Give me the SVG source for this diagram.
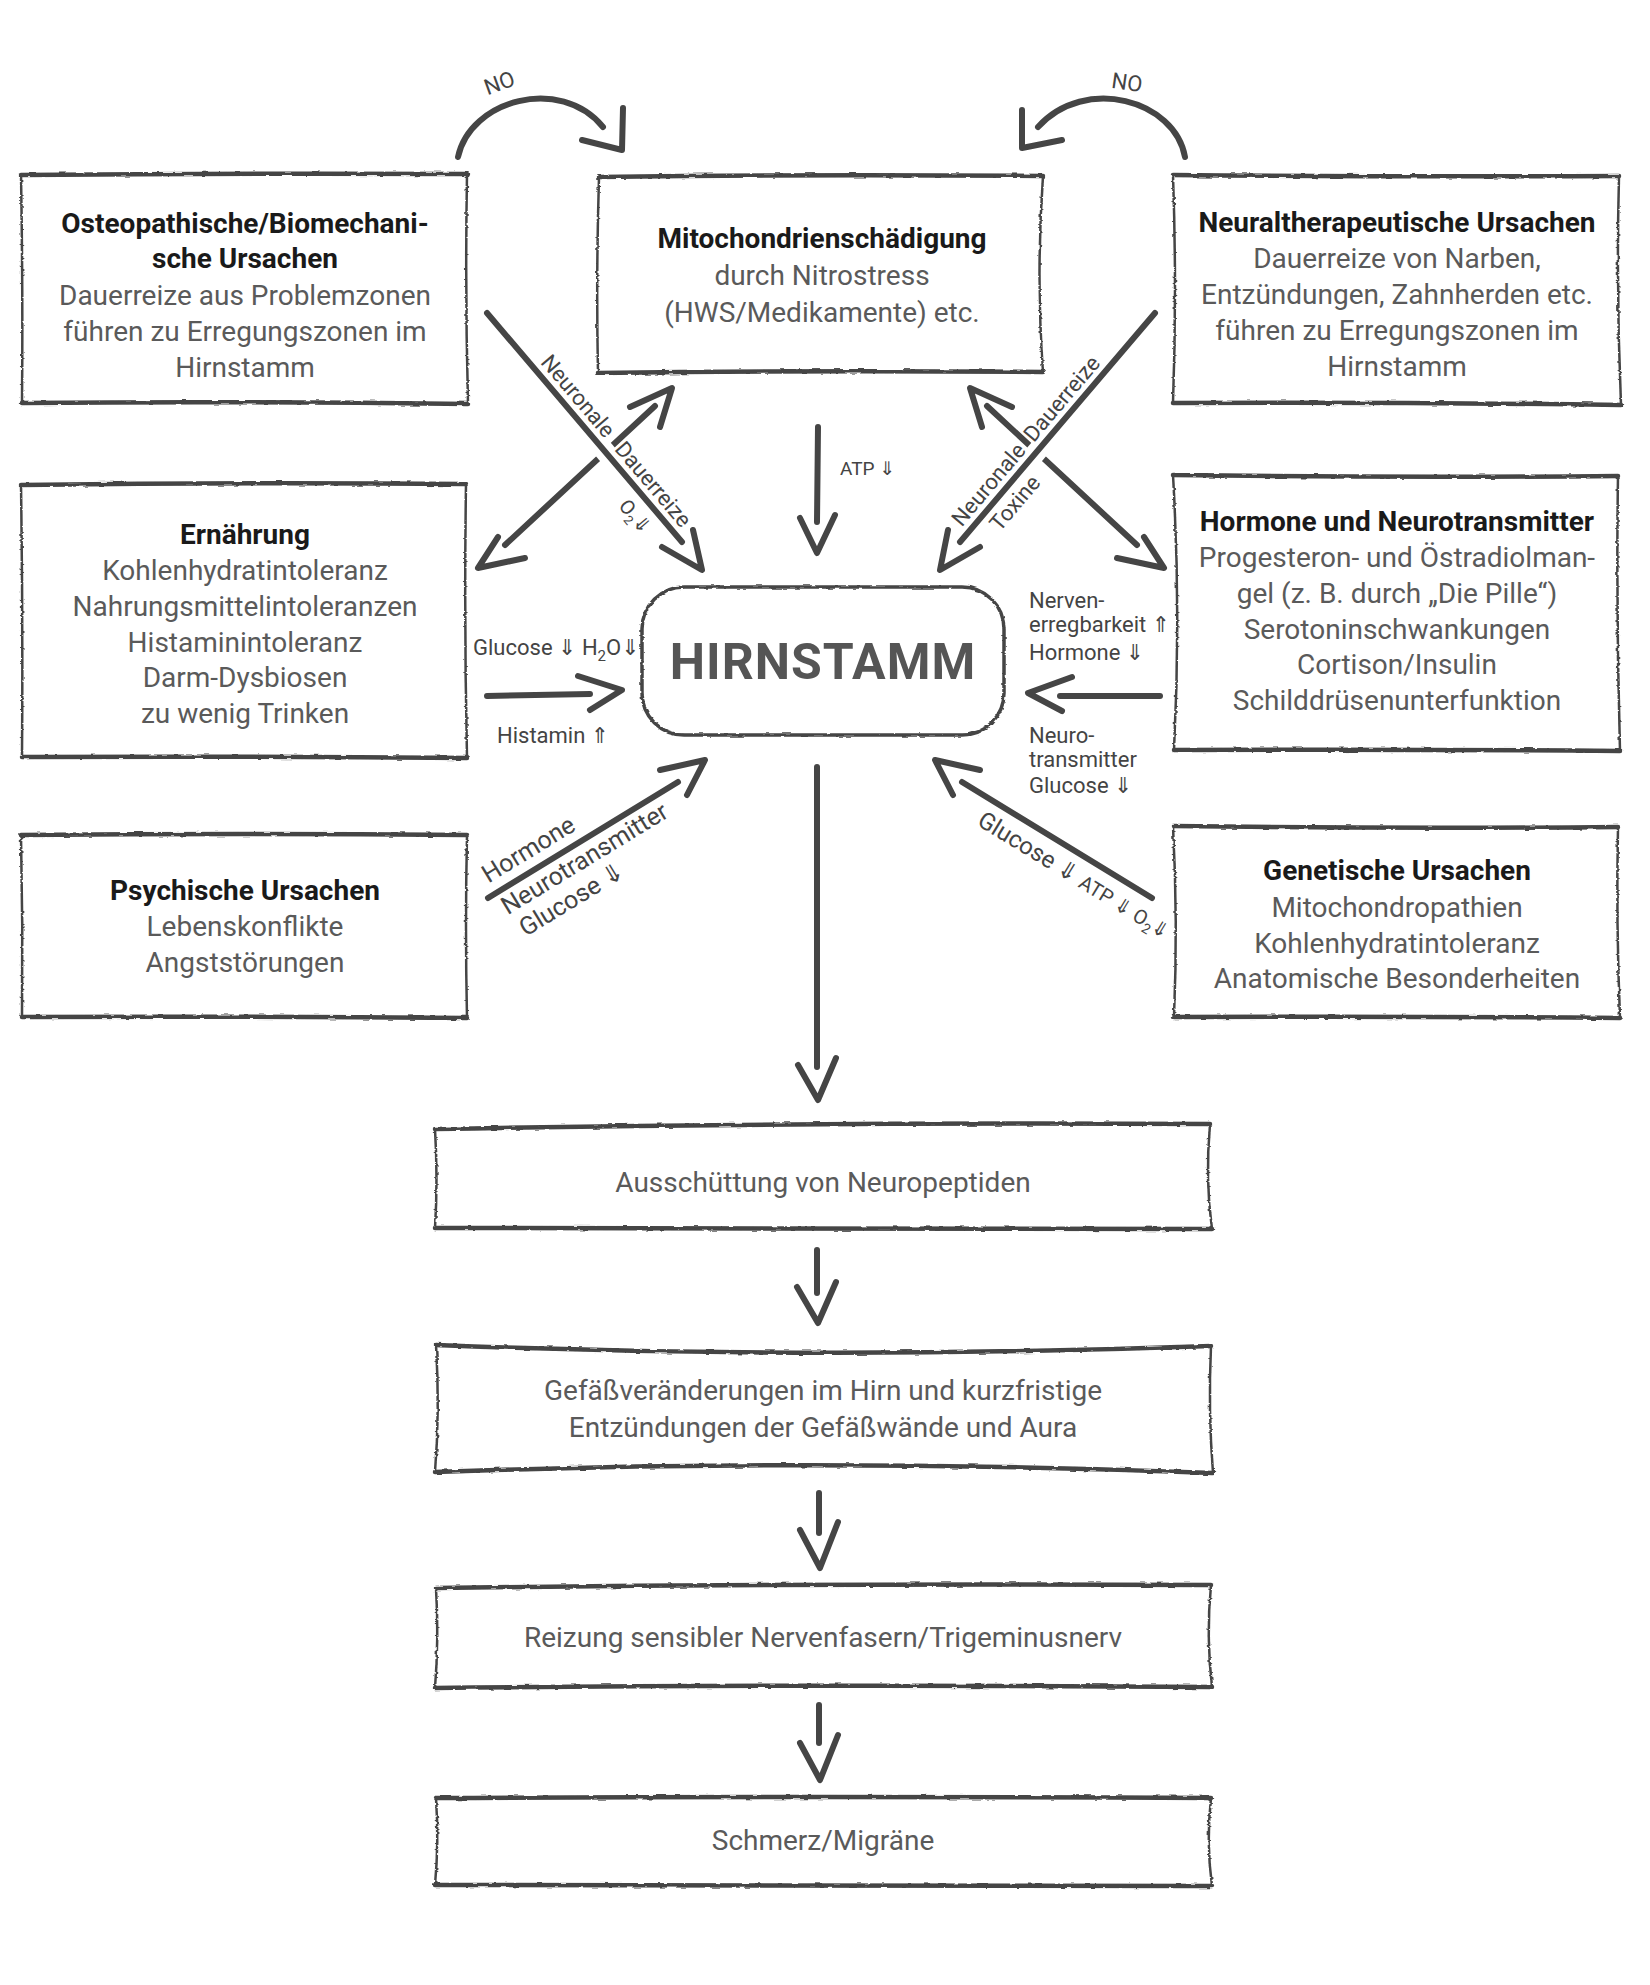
<svg xmlns="http://www.w3.org/2000/svg" width="1650" height="1985" viewBox="0 0 1650 1985">
<defs>
<style>
.eh{stroke:#454545;stroke-width:4.5;fill:none;stroke-linecap:round;stroke-linejoin:round}
.ev{stroke:#454545;stroke-width:2.5;fill:none;stroke-linecap:round}
.ln{stroke:#454545;stroke-width:6;fill:none;stroke-linecap:round;stroke-linejoin:round}
.halo{stroke:#ffffff;stroke-width:20;fill:none;stroke-linecap:butt}
.t{font-family:Roboto,"DejaVu Sans",sans-serif;font-size:28px;text-anchor:middle}
.tb{font-weight:bold;fill:#1a1a1a}
.tr{fill:#5a5a5a}
.lb{font-family:Roboto,"DejaVu Sans",sans-serif;fill:#444}
.hs{font-family:Roboto,"DejaVu Sans",sans-serif;font-weight:bold;font-size:50px;fill:#555;text-anchor:middle;letter-spacing:1px}
</style>
<filter id="rough" filterUnits="userSpaceOnUse" x="0" y="0" width="1650" height="1985">
<feTurbulence type="fractalNoise" baseFrequency="0.09 0.35" numOctaves="2" seed="3" result="n"/>
<feDisplacementMap in="SourceGraphic" in2="n" scale="3" xChannelSelector="R" yChannelSelector="G"/>
</filter>
</defs>
<rect width="1650" height="1985" fill="#ffffff"/>

<!-- connectors -->
<g id="connectors">
  <!-- NO arcs -->
  <path class="ln" d="M458,157 C470,100 560,75 603,127"/>
  <path class="ln" d="M623,108 L622,150 L582,140"/>
  <path class="ln" d="M1185,157 C1175,100 1085,75 1038,127"/>
  <path class="ln" d="M1022,110 L1022,148 L1062,140"/>
  <!-- Ernaehrung <-> Mito -->
  <path class="ln" d="M505,545 L655,406"/>
  <path class="ln" d="M630,407 L672,388 L660,427"/>
  <path class="ln" d="M498,537 L478,568 L525,558"/>
  <!-- Osteo -> Hirnstamm (continuous over) -->
  <path class="halo" d="M492,319 L678,537"/>
  <path class="ln" d="M487,313 L682,542"/>
  <path class="ln" d="M693,530 L702,570 L662,547"/>
  <!-- Mito <-> Hormone -->
  <path class="ln" d="M1137,545 L987,406"/>
  <path class="ln" d="M1012,407 L970,388 L982,427"/>
  <path class="ln" d="M1144,537 L1164,568 L1117,558"/>
  <!-- Neural -> Hirnstamm -->
  <path class="halo" d="M1150,319 L964,537"/>
  <path class="ln" d="M1155,313 L960,542"/>
  <path class="ln" d="M948,530 L940,570 L980,547"/>
  <!-- ATP -->
  <path class="ln" d="M818,427 L817,522"/>
  <path class="ln" d="M800,518 L817,553 L835,515"/>
  <!-- Ernaehrung -> Hirnstamm -->
  <path class="ln" d="M487,696 L590,694"/>
  <path class="ln" d="M578,676 L622,690 L590,710"/>
  <!-- Hormone -> Hirnstamm -->
  <path class="ln" d="M1160,696 L1060,696"/>
  <path class="ln" d="M1072,677 L1028,693 L1062,711"/>
  <!-- Psych -> Hirnstamm -->
  <path class="ln" d="M488,898 L678,782"/>
  <path class="ln" d="M660,770 L705,760 L687,795"/>
  <!-- Genetic -> Hirnstamm -->
  <path class="ln" d="M1152,898 L962,782"/>
  <path class="ln" d="M980,770 L935,760 L953,795"/>
  <!-- main down -->
  <path class="ln" d="M817,767 L817,1067"/>
  <path class="ln" d="M798,1065 L818,1100 L836,1058"/>
  <path class="ln" d="M817,1250 L817,1293"/>
  <path class="ln" d="M797,1287 L818,1323 L836,1282"/>
  <path class="ln" d="M819,1493 L819,1533"/>
  <path class="ln" d="M800,1530 L820,1568 L838,1522"/>
  <path class="ln" d="M819,1705 L819,1743"/>
  <path class="ln" d="M800,1743 L820,1780 L838,1735"/>
</g>

<!-- connector labels -->
<g id="labels">
  <text class="lb" style="font-size:22px" transform="translate(502,90) rotate(-20)" text-anchor="middle">NO</text>
  <text class="lb" style="font-size:22px" transform="translate(1126,90) rotate(8)" text-anchor="middle">NO</text>
  <g transform="translate(487,313) rotate(49.58)">
    <text class="lb" style="font-size:22px" x="72" y="-8">Neuronale</text>
    <text class="lb" style="font-size:22px" x="186" y="-8">Dauerreize</text>
    <text class="lb" style="font-size:20px" x="232" y="26">O<tspan font-size="13" dy="5">2</tspan><tspan dy="-5">⇓</tspan></text>
  </g>
  <g transform="translate(960,542) rotate(-49.58)">
    <text class="lb" style="font-size:22px" x="12" y="-8">Neuronale</text>
    <text class="lb" style="font-size:22px" x="123" y="-8">Dauerreize</text>
    <text class="lb" style="font-size:22px" x="33" y="24">Toxine</text>
  </g>
  <text class="lb" style="font-size:19px" x="840" y="475">ATP ⇓</text>
  <text class="lb" style="font-size:22px" x="473" y="655">Glucose ⇓ H<tspan font-size="15" dy="6">2</tspan><tspan dy="-6">O⇓</tspan></text>
  <text class="lb" style="font-size:22px" x="497" y="743">Histamin ⇑</text>
  <text class="lb" style="font-size:22px" x="1029" y="608">Nerven-</text>
  <text class="lb" style="font-size:22px" x="1029" y="632">erregbarkeit ⇑</text>
  <text class="lb" style="font-size:22px" x="1029" y="660">Hormone ⇓</text>
  <text class="lb" style="font-size:22px" x="1029" y="743">Neuro-</text>
  <text class="lb" style="font-size:22px" x="1029" y="767">transmitter</text>
  <text class="lb" style="font-size:22px" x="1029" y="793">Glucose ⇓</text>
  <g transform="translate(488,898) rotate(-31.4)">
    <text class="lb" style="font-size:25px" x="8" y="-12">Hormone</text>
    <text class="lb" style="font-size:25px" x="8" y="25">Neurotransmitter</text>
    <text class="lb" style="font-size:25px" x="12" y="53">Glucose ⇓</text>
  </g>
  <g transform="translate(962,782) rotate(31.4)">
    <text class="lb" style="font-size:24px" x="34" y="29">Glucose ⇓ <tspan font-size="20">ATP ⇓ O<tspan font-size="14" dy="5">2</tspan><tspan dy="-5">⇓</tspan></tspan></text>
  </g>
</g>

<!-- nodes -->
<g id="node-osteo">
  <g filter="url(#rough)">
    <path class="eh" d="M21,175 Q240,173 467,174"/>
    <path class="eh" d="M22,403 Q240,401 468,404"/>
    <path class="ev" d="M21,175 Q23,290 22,403"/>
    <path class="ev" d="M467,174 Q465,290 468,404"/>
  </g>
  <text class="t tb" x="245" y="233">Osteopathische/Biomechani-</text>
  <text class="t tb" x="245" y="268">sche Ursachen</text>
  <text class="t tr" x="245" y="305">Dauerreize aus Problemzonen</text>
  <text class="t tr" x="245" y="341">führen zu Erregungszonen im</text>
  <text class="t tr" x="245" y="377">Hirnstamm</text>
</g>

<g id="node-mito">
  <g filter="url(#rough)">
    <path class="eh" d="M599,177 Q820,174 1043,176"/>
    <path class="eh" d="M598,373 Q820,370 1043,372"/>
    <path class="ev" d="M599,177 Q596,275 598,373"/>
    <path class="ev" d="M1043,176 Q1036,275 1043,372"/>
  </g>
  <text class="t tb" x="822" y="248">Mitochondrienschädigung</text>
  <text class="t tr" x="822" y="285">durch Nitrostress</text>
  <text class="t tr" x="822" y="322">(HWS/Medikamente) etc.</text>
</g>

<g id="node-neural">
  <g filter="url(#rough)">
    <path class="eh" d="M1173,175 Q1400,177 1619,176"/>
    <path class="eh" d="M1173,403 Q1400,402 1621,405"/>
    <path class="ev" d="M1173,175 Q1177,290 1173,403"/>
    <path class="ev" d="M1619,176 Q1616,290 1621,405"/>
  </g>
  <text class="t tb" x="1397" y="232">Neuraltherapeutische Ursachen</text>
  <text class="t tr" x="1397" y="268">Dauerreize von Narben,</text>
  <text class="t tr" x="1397" y="304">Entzündungen, Zahnherden etc.</text>
  <text class="t tr" x="1397" y="340">führen zu Erregungszonen im</text>
  <text class="t tr" x="1397" y="376">Hirnstamm</text>
</g>

<g id="node-ernaehrung">
  <g filter="url(#rough)">
    <path class="eh" d="M21,485 Q240,482 466,484"/>
    <path class="eh" d="M22,757 Q240,756 467,758"/>
    <path class="ev" d="M21,485 Q23,620 22,757"/>
    <path class="ev" d="M466,484 Q464,620 467,758"/>
  </g>
  <text class="t tb" x="245" y="544">Ernährung</text>
  <text class="t tr" x="245" y="580">Kohlenhydratintoleranz</text>
  <text class="t tr" x="245" y="616">Nahrungsmittelintoleranzen</text>
  <text class="t tr" x="245" y="652">Histaminintoleranz</text>
  <text class="t tr" x="245" y="687">Darm-Dysbiosen</text>
  <text class="t tr" x="245" y="723">zu wenig Trinken</text>
</g>

<g id="node-hormone">
  <g filter="url(#rough)">
    <path class="eh" d="M1173,475 Q1400,478 1618,476"/>
    <path class="eh" d="M1174,750 Q1400,749 1620,751"/>
    <path class="ev" d="M1173,475 Q1181,612 1174,750"/>
    <path class="ev" d="M1618,476 Q1616,612 1620,751"/>
  </g>
  <text class="t tb" x="1397" y="531">Hormone und Neurotransmitter</text>
  <text class="t tr" x="1397" y="567">Progesteron- und Östradiolman-</text>
  <text class="t tr" x="1397" y="603">gel (z. B. durch „Die Pille“)</text>
  <text class="t tr" x="1397" y="639">Serotoninschwankungen</text>
  <text class="t tr" x="1397" y="674">Cortison/Insulin</text>
  <text class="t tr" x="1397" y="710">Schilddrüsenunterfunktion</text>
</g>

<g id="node-psych">
  <g filter="url(#rough)">
    <path class="eh" d="M21,835 Q240,833 467,835"/>
    <path class="eh" d="M22,1017 Q240,1016 467,1018"/>
    <path class="ev" d="M21,835 Q23,926 22,1017"/>
    <path class="ev" d="M467,835 Q465,926 467,1018"/>
  </g>
  <text class="t tb" x="245" y="900">Psychische Ursachen</text>
  <text class="t tr" x="245" y="936">Lebenskonflikte</text>
  <text class="t tr" x="245" y="972">Angststörungen</text>
</g>

<g id="node-genetic">
  <g filter="url(#rough)">
    <path class="eh" d="M1173,826 Q1400,829 1618,827"/>
    <path class="eh" d="M1174,1017 Q1400,1016 1620,1018"/>
    <path class="ev" d="M1173,826 Q1178,922 1174,1017"/>
    <path class="ev" d="M1618,827 Q1616,922 1620,1018"/>
  </g>
  <text class="t tb" x="1397" y="880">Genetische Ursachen</text>
  <text class="t tr" x="1397" y="917">Mitochondropathien</text>
  <text class="t tr" x="1397" y="953">Kohlenhydratintoleranz</text>
  <text class="t tr" x="1397" y="988">Anatomische Besonderheiten</text>
</g>

<g id="node-hirnstamm">
  <g filter="url(#rough)">
    <rect x="642" y="587" width="362" height="148" rx="42" ry="42" fill="none" stroke="#454545" stroke-width="3.5"/>
  </g>
  <text class="hs" x="823" y="679">HIRNSTAMM</text>
</g>

<g id="node-neuropeptide">
  <g filter="url(#rough)">
    <path class="eh" d="M435,1129 Q820,1122 1210,1124"/>
    <path class="eh" d="M435,1228 Q820,1229 1212,1229"/>
    <path class="ev" d="M435,1129 Q438,1180 435,1228"/>
    <path class="ev" d="M1210,1124 Q1205,1180 1212,1229"/>
  </g>
  <text class="t tr" x="823" y="1192">Ausschüttung von Neuropeptiden</text>
</g>

<g id="node-gefaesse">
  <g filter="url(#rough)">
    <path class="eh" d="M436,1345 Q820,1360 1211,1346"/>
    <path class="eh" d="M435,1472 Q820,1458 1213,1473"/>
    <path class="ev" d="M436,1345 Q440,1410 435,1472"/>
    <path class="ev" d="M1211,1346 Q1208,1410 1213,1473"/>
  </g>
  <text class="t tr" x="823" y="1400">Gefäßveränderungen im Hirn und kurzfristige</text>
  <text class="t tr" x="823" y="1437">Entzündungen der Gefäßwände und Aura</text>
</g>

<g id="node-reizung">
  <g filter="url(#rough)">
    <path class="eh" d="M436,1588 Q820,1583 1211,1585"/>
    <path class="eh" d="M435,1688 Q820,1684 1212,1687"/>
    <path class="ev" d="M436,1588 Q439,1638 435,1688"/>
    <path class="ev" d="M1211,1585 Q1206,1636 1212,1687"/>
  </g>
  <text class="t tr" x="823" y="1647">Reizung sensibler Nervenfasern/Trigeminusnerv</text>
</g>

<g id="node-schmerz">
  <g filter="url(#rough)">
    <path class="eh" d="M436,1798 Q820,1796 1211,1798"/>
    <path class="eh" d="M435,1885 Q820,1884 1212,1886"/>
    <path class="ev" d="M436,1798 Q439,1842 435,1885"/>
    <path class="ev" d="M1211,1798 Q1206,1842 1212,1886"/>
  </g>
  <text class="t tr" x="823" y="1850">Schmerz/Migräne</text>
</g>
</svg>
